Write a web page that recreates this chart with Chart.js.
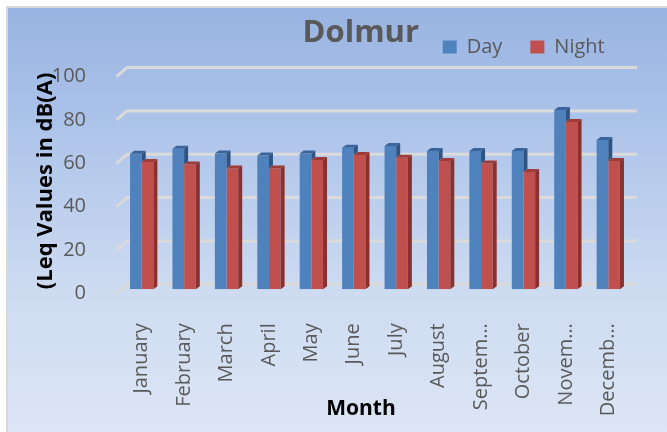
<!DOCTYPE html>
<html>
<head>
<meta charset="utf-8">
<script src="https://cdn.jsdelivr.net/npm/chart.js@4.4.1/dist/chart.umd.min.js"></script>
<style>
  html, body { margin: 0; padding: 0; background: #ffffff; overflow: hidden; }
  #wrap { position: relative; width: 667px; height: 432px; overflow: hidden; }
  #frame {
    position: absolute; left: 6px; top: 6px; width: 667px; height: 432px;
    border-left: 2px solid #d8d8d8; border-top: 2px solid #d8d8d8;
    background: linear-gradient(180deg, #99b4e2 0%, #abc2e9 25%, #cddbf1 65%, #dde6f5 100%);
  }
  canvas { position: absolute; left: 0; top: 0; }
</style>
</head>
<body>
<div id="wrap">
  <div id="frame"></div>
  <canvas id="c" width="667" height="432"></canvas>
</div>
<script>
// ---- data ----
const months = ["January", "February", "March", "April", "May", "June", "July", "August", "September", "October", "November", "December"];
const tickLabels = ["January", "February", "March", "April", "May", "June", "July", "August", "Septem\u2026", "October", "Novem\u2026", "Decemb\u2026"];
const dayValues = [62.6, 64.9, 62.7, 61.8, 62.7, 65.3, 66.1, 63.8, 63.8, 63.8, 82.7, 68.9];
const nightValues = [58.7, 57.6, 55.7, 55.7, 59.7, 62.0, 60.7, 59.2, 58.0, 54.1, 77.2, 59.2];
const yTicks = [0, 20, 40, 60, 80, 100];

const chartTitle = "Dolmur";
const xTitle = "Month";
const yTitle = "(Leq Values in dB(A)";

// ---- styles ----
const BLUE = "#4f81bd", BLUE_TOP = "#3a659c", BLUE_SIDE = "#2f5383";
const RED = "#c0504d", RED_TOP = "#9e3b39", RED_SIDE = "#8a302e";
const TXT = "#595959";
const DX = 4, DY = 3;

Chart.defaults.font.family = "'Open Sans', sans-serif";

const gridPlugin = {
  id: "backGrid",
  beforeDatasetsDraw(chart) {
    const ctx = chart.ctx, y = chart.scales.y, area = chart.chartArea;
    ctx.save();
    ctx.strokeStyle = "#dadada";
    ctx.lineWidth = 3;
    ctx.lineJoin = "round";
    yTicks.forEach(v => {
      const py = y.getPixelForValue(v);
      ctx.beginPath();
      ctx.moveTo(area.left - 4, py + 4);
      ctx.lineTo(area.left + 6.5, py - 5);
      ctx.lineTo(area.right + 7.5, py - 5);
      ctx.stroke();
    });
    ctx.restore();
  }
};

function faces(ctx, b, topC, sideC, sideBottom) {
  const L = b.x - b.width / 2, R = b.x + b.width / 2, T = b.y;
  const B = sideBottom == null ? b.base : sideBottom;
  ctx.fillStyle = topC;
  ctx.beginPath();
  ctx.moveTo(L, T); ctx.lineTo(L + DX, T - DY); ctx.lineTo(R + DX, T - DY); ctx.lineTo(R, T);
  ctx.closePath(); ctx.fill();
  if (B > T) {
    ctx.fillStyle = sideC;
    ctx.beginPath();
    ctx.moveTo(R, T); ctx.lineTo(R + DX, T - DY); ctx.lineTo(R + DX, B - DY); ctx.lineTo(R, B);
    ctx.closePath(); ctx.fill();
  }
}

const bar3dPlugin = {
  id: "bar3d",
  afterDatasetsDraw(chart) {
    const ctx = chart.ctx;
    const m0 = chart.getDatasetMeta(0), m1 = chart.getDatasetMeta(1);
    ctx.save();
    m0.data.forEach((el0, i) => {
      const b0 = el0.getProps(["x", "y", "base", "width"], true);
      const b1 = m1.data[i].getProps(["x", "y", "base", "width"], true);
      faces(ctx, b0, BLUE_TOP, BLUE_SIDE, Math.max(b1.y, b0.y));
      faces(ctx, b1, RED_TOP, RED_SIDE, null);
    });
    ctx.restore();
  }
};

const placePlugin = {
  id: "place",
  beforeDraw(chart) {
    const lg = chart.legend;
    if (lg) {
      const h = lg.bottom - lg.top;
      lg.left = 414.7; lg.right = 667; lg.top = 9; lg.bottom = 9 + h;
    }
    const t = chart.titleBlock;
    if (t) {
      const c = 360.8, half = (t.right - t.left) / 2;
      t.left = c - half; t.right = c + half;
    }
    const xs = chart.scales.x;
    if (xs && !xs._titleShifted) {
      const orig = xs.drawTitle.bind(xs);
      xs.drawTitle = function () {
        const ctx = chart.ctx;
        ctx.save(); ctx.translate(-14, 0); orig(); ctx.restore();
      };
      xs._titleShifted = true;
    }
  }
};

new Chart(document.getElementById("c"), {
  type: "bar",
  data: {
    labels: months,
    datasets: [
      { label: "Day", data: dayValues, backgroundColor: BLUE, borderWidth: 0 },
      { label: "Night", data: nightValues, backgroundColor: RED, borderWidth: 0 }
    ]
  },
  options: {
    responsive: false,
    animation: false,
    devicePixelRatio: 1,
    events: [],
    layout: { padding: { left: 8, right: 37.5, top: 8, bottom: 0 } },
    datasets: { bar: { categoryPercentage: 0.55, barPercentage: 1.0 } },
    plugins: {
      title: {
        display: true, text: chartTitle, color: TXT,
        font: { size: 31, weight: "bold" },
        padding: { top: 7, bottom: -37.6 }
      },
      legend: {
        display: true, position: "top", align: "start",
        labels: { color: TXT, font: { size: 20 }, boxWidth: 14, boxHeight: 13, padding: 28 }
      },
      tooltip: { enabled: false }
    },
    scales: {
      x: {
        grid: { display: false },
        border: { display: false },
        ticks: {
          color: TXT, font: { size: 20 }, autoSkip: false,
          minRotation: 90, maxRotation: 90, padding: 26,
          callback: (v, i) => tickLabels[i]
        },
        title: {
          display: true, text: xTitle, color: "#000000",
          font: { size: 21, weight: "bold" }, padding: { top: 0, bottom: 10.4 }
        },
        afterFit: s => { s.height = 142.7; }
      },
      y: {
        min: 0, max: 100,
        grid: { display: false },
        border: { display: false },
        afterBuildTicks: s => { s.ticks = yTicks.map(v => ({ value: v })); },
        ticks: { color: TXT, font: { size: 20 }, padding: 26.5, labelOffset: 4 },
        title: {
          display: true, text: yTitle, color: "#000000",
          font: { size: 22, weight: "bold" }, padding: { top: 25, bottom: 0 }
        },
        afterFit: s => { s.width = 112.5; }
      }
    }
  },
  plugins: [gridPlugin, bar3dPlugin, placePlugin]
});
</script>
</body>
</html>
